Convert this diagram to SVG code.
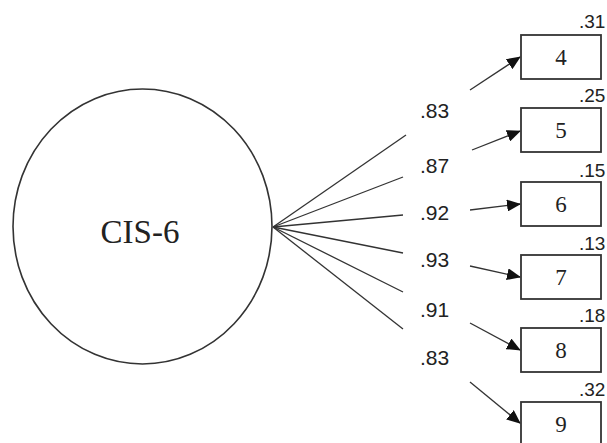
<svg xmlns="http://www.w3.org/2000/svg" width="607" height="443" viewBox="0 0 607 443">
<style>
.ln{stroke:#333;stroke-width:1.3;fill:none}
.ar{stroke:#333;stroke-width:1.3;fill:none;marker-end:url(#ah)}
.box{fill:#fff;stroke:#333;stroke-width:1.8}
.bt{font-family:"Liberation Serif",serif;font-size:23px;fill:#222;text-anchor:middle}
.cf{font-family:"Liberation Sans",sans-serif;font-size:21px;fill:#222}
.rv{font-family:"Liberation Sans",sans-serif;font-size:19px;fill:#222}
</style>
<defs>
<marker id="ah" markerWidth="14" markerHeight="12" refX="13" refY="6" orient="auto" markerUnits="userSpaceOnUse">
<path d="M0,0 L14,6 L0,12 Z" fill="#111"/>
</marker>
</defs>
<rect width="607" height="443" fill="#fff"/>
<g id="cis6">
<ellipse cx="142.5" cy="226.5" rx="129.5" ry="137.5" fill="#fff" stroke="#333" stroke-width="1.6"/>
<text x="140" y="243" font-family="Liberation Serif,serif" font-size="33" fill="#222" text-anchor="middle">CIS-6</text>
</g>
<g id="connectors">
<line class="ln" x1="273" y1="227" x2="406" y2="135"/>
<line class="ln" x1="273" y1="227" x2="403" y2="177"/>
<line class="ln" x1="273" y1="227" x2="403" y2="215"/>
<line class="ln" x1="273" y1="227" x2="403" y2="253"/>
<line class="ln" x1="273" y1="227" x2="403" y2="292"/>
<line class="ln" x1="273" y1="227" x2="403" y2="329"/>
<line class="ar" x1="470" y1="90" x2="520" y2="57"/>
<line class="ar" x1="472" y1="150" x2="520" y2="131"/>
<line class="ar" x1="470" y1="210" x2="520" y2="204"/>
<line class="ar" x1="470" y1="266" x2="520" y2="277"/>
<line class="ar" x1="470" y1="323" x2="520" y2="350"/>
<line class="ar" x1="470" y1="382" x2="520" y2="423"/>
</g>
<g id="coefs">
<text class="cf" x="420" y="118">.83</text>
<text class="cf" x="420" y="173">.87</text>
<text class="cf" x="420" y="220">.92</text>
<text class="cf" x="420" y="267">.93</text>
<text class="cf" x="420" y="317">.91</text>
<text class="cf" x="420" y="365">.83</text>
</g>
<g id="item4"><rect class="box" x="521" y="35" width="80" height="44"/><text class="bt" x="561" y="65">4</text><text class="rv" x="579" y="28">.31</text></g>
<g id="item5"><rect class="box" x="521" y="108" width="80" height="44"/><text class="bt" x="561" y="138">5</text><text class="rv" x="579" y="102">.25</text></g>
<g id="item6"><rect class="box" x="521" y="182" width="80" height="44"/><text class="bt" x="561" y="212">6</text><text class="rv" x="579" y="177">.15</text></g>
<g id="item7"><rect class="box" x="521" y="255" width="80" height="44"/><text class="bt" x="561" y="285">7</text><text class="rv" x="579" y="250">.13</text></g>
<g id="item8"><rect class="box" x="521" y="328" width="80" height="44"/><text class="bt" x="561" y="358">8</text><text class="rv" x="579" y="322">.18</text></g>
<g id="item9"><rect class="box" x="521" y="402" width="80" height="44"/><text class="bt" x="561" y="432">9</text><text class="rv" x="579" y="396">.32</text></g>
</svg>
